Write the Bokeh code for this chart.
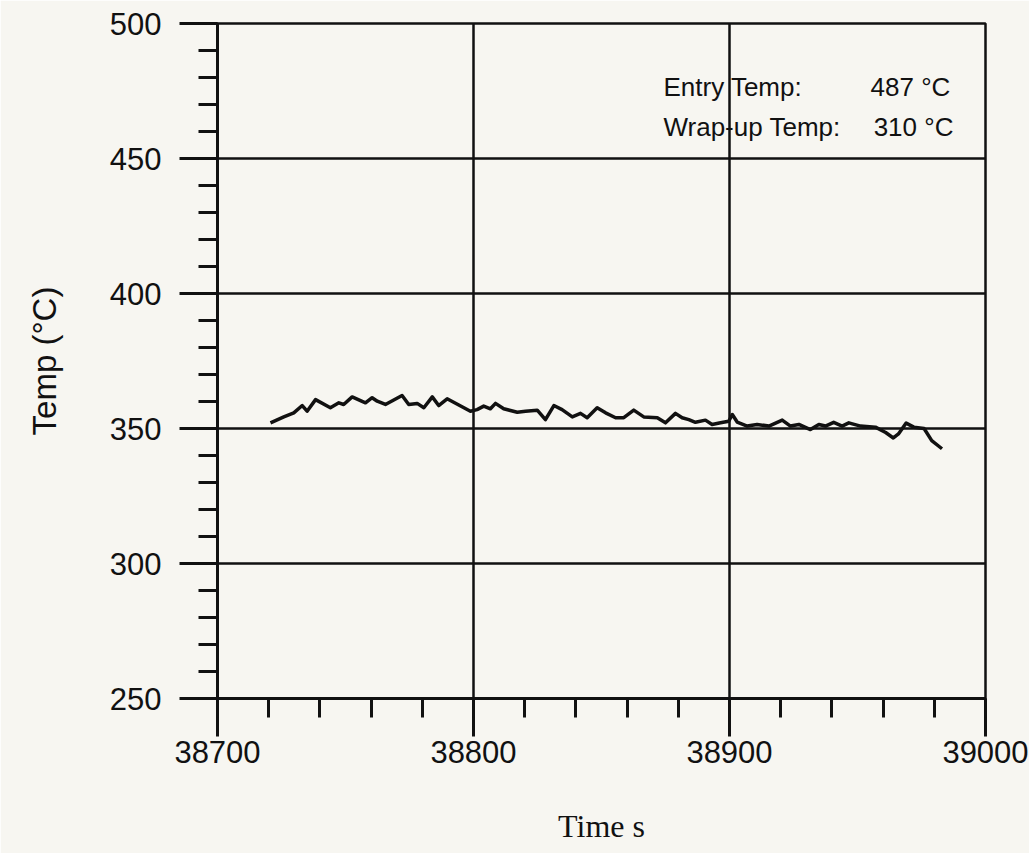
from bokeh.plotting import figure
from bokeh.models import FixedTicker, Label
from bokeh.embed import file_html
from bokeh.resources import INLINE

# data
time_s = [38720.7, 38725.9, 38729.8, 38733.1, 38735.0, 38738.3, 38744.1, 38747.4, 38749.3,
          38752.6, 38757.8, 38760.4, 38762.4, 38765.6, 38772.1, 38774.7, 38778.0, 38780.6,
          38783.9, 38786.4, 38789.7, 38798.8, 38801.4, 38804.0, 38806.6, 38808.6, 38811.8,
          38817.1, 38820.3, 38824.9, 38828.1, 38831.4, 38834.6, 38838.6, 38841.8, 38844.4,
          38848.3, 38851.6, 38855.5, 38858.7, 38862.6, 38866.5, 38871.8, 38875.0, 38878.9,
          38881.5, 38884.1, 38886.7, 38890.6, 38893.2, 38896.5, 38899.7, 38901.1, 38903.0,
          38906.9, 38910.8, 38915.4, 38920.6, 38923.8, 38927.1, 38931.6, 38934.9, 38937.5,
          38940.7, 38944.0, 38946.6, 38951.2, 38957.0, 38961.0, 38964.0, 38966.0, 38969.0,
          38972.0, 38976.0, 38979.0, 38983.0]
temp_c = [352.1, 354.3, 355.8, 358.5, 356.4, 360.7, 357.7, 359.5, 358.9,
          361.7, 359.5, 361.4, 360.1, 358.9, 362.2, 358.9, 359.3, 357.7,
          361.7, 358.5, 361.0, 356.4, 357.0, 358.3, 357.3, 359.3, 357.3,
          356.0, 356.4, 356.8, 353.3, 358.5, 357.0, 354.3, 355.6, 354.0,
          357.7, 355.8, 354.0, 354.0, 356.8, 354.3, 354.0, 352.1, 355.6,
          354.0, 353.3, 352.3, 353.1, 351.5, 352.1, 352.7, 355.2, 352.4,
          350.9, 351.5, 350.9, 353.1, 350.9, 351.5, 349.6, 351.5, 350.9,
          352.3, 350.9, 352.1, 350.9, 350.5, 348.5, 346.5, 348.0, 352.0,
          350.5, 350.0, 345.5, 342.5]

x_major = [38700, 38800, 38900, 39000]
x_minor = list(range(38700, 39001, 20))
y_major = [250, 300, 350, 400, 450, 500]
y_minor = list(range(250, 501, 10))

ann_names = ["Entry Temp:", "Wrap-up Temp:"]
ann_values = ["487 \u00b0C", "310 \u00b0C"]

bg = "#f7f6f1"
p = figure(width=1029, height=853, x_range=(38700, 39000), y_range=(250, 500),
           output_backend="svg", toolbar_location=None,
           min_border_left=217, min_border_right=44, min_border_top=23, min_border_bottom=155)
p.background_fill_color = bg
p.border_fill_color = bg
p.outline_line_color = "#111111"
p.outline_line_width = 2.5

p.line(time_s, temp_c, line_color="#111111", line_width=3.5, line_join="round")

p.xaxis.ticker = FixedTicker(ticks=x_major, minor_ticks=x_minor)
p.yaxis.ticker = FixedTicker(ticks=y_major, minor_ticks=y_minor)
p.xgrid.ticker = FixedTicker(ticks=x_major)
p.ygrid.ticker = FixedTicker(ticks=y_major)
for g in (p.xgrid, p.ygrid):
    g.grid_line_color = "#111111"
    g.grid_line_width = 2.5

for ax in (p.xaxis, p.yaxis):
    ax.axis_line_color = "#111111"
    ax.axis_line_width = 3
    ax.major_tick_line_color = "#111111"
    ax.major_tick_line_width = 3
    ax.minor_tick_line_color = "#111111"
    ax.minor_tick_line_width = 3
    ax.major_tick_in = 0
    ax.major_tick_out = 38
    ax.minor_tick_in = 0
    ax.minor_tick_out = 19
    ax.major_label_text_font = "Liberation Sans"
    ax.major_label_text_font_size = "31px"
    ax.major_label_text_color = "#111111"
    ax.axis_label_text_color = "#111111"
    ax.axis_label_text_font_style = "normal"

p.xaxis.major_label_standoff = 4
p.yaxis.major_label_standoff = 18
p.xaxis.axis_label = "Time s"
p.xaxis.axis_label_text_font = "Liberation Serif"
p.xaxis.axis_label_text_font_size = "32px"
p.xaxis.axis_label_standoff = 42
p.yaxis.axis_label = "Temp (\u00b0C)"
p.yaxis.axis_label_text_font = "Liberation Sans"
p.yaxis.axis_label_text_font_size = "33px"
p.yaxis.axis_label_standoff = 44

name_x = 38874.2
val_x = [38955.1, 38956.3]
ann_y = [476.3, 461.5]
for i in range(2):
    p.add_layout(Label(x=name_x, y=ann_y[i], text=ann_names[i], text_font="Liberation Sans",
                       text_font_size="26px", text_color="#111111", text_baseline="alphabetic"))
    p.add_layout(Label(x=val_x[i], y=ann_y[i], text=ann_values[i], text_font="Liberation Sans",
                       text_font_size="26px", text_color="#111111", text_baseline="alphabetic"))

open("out.html", "w").write(file_html(p, INLINE))
